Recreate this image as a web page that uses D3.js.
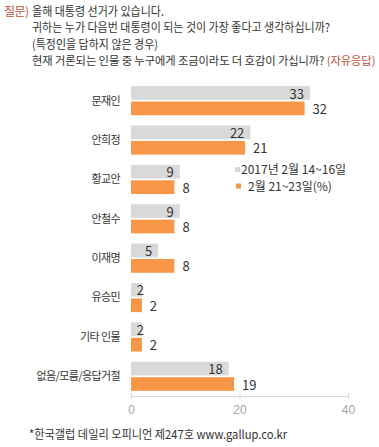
<!DOCTYPE html>
<html>
<head>
  <meta charset="utf-8">
  <script src="https://d3js.org/d3.v7.min.js"></script>
  <style>
    body { margin: 0; background: #fff; }
    svg { font-family: "Noto Sans CJK KR", "Noto Sans", sans-serif; }
    .cat text { fill: #333; font-size: 11px; letter-spacing: -0.6px; }
    .val { font-size: 13px; fill: #333; }
    .xaxis text { fill: #a6a6a6; font-size: 12px; }
    .xaxis line, .xaxis path { stroke: #d9d9d9; }
  </style>
</head>
<body>
<svg id="chart" width="379" height="447"></svg>
<script>
// 후보 및 응답 (%)
var candidates = ["문재인", "안희정", "황교안", "안철수", "이재명", "유승민", "기타 인물", "없음/모름/응답거절"];
var week1 = [33, 22, 9, 9, 5, 2, 2, 18];   // 2017년 2월 14~16일
var week2 = [32, 21, 8, 8, 8, 2, 2, 19];   // 2월 21~23일
var seriesNames = ["2017년 2월 14~16일", "2월 21~23일(%)"];
var xTicks = [0, 20, 40];

var colors = ["#d9d9d9", "#f79646"];
var svg = d3.select("#chart");

// 질문 문구
var q = svg.append("g").attr("font-size", 12).attr("fill", "#333");
q.append("text").attr("x", 4).attr("y", 16).attr("fill", "#b5543a")
  .attr("textLength", 25).text("질문)");
var lines = [
  "올해 대통령 선거가 있습니다.",
  "귀하는 누가 다음번 대통령이 되는 것이 가장 좋다고 생각하십니까?",
  "(특정인을 답하지 않은 경우)",
  "현재 거론되는 인물 중 누구에게 조금이라도 더 호감이 가십니까? "
];
var widths = [132, 298, 126, null];
lines.forEach(function (t, i) {
  var tx = q.append("text").attr("x", 32).attr("y", 16 + i * 16.3).text(t);
  if (widths[i]) {
    tx.attr("textLength", widths[i]).attr("lengthAdjust", "spacingAndGlyphs");
  } else {
    tx.attr("font-size", 11.3).attr("letter-spacing", -0.1);
    tx.append("tspan").attr("fill", "#b5543a").text("(자유응답)");
  }
});

var data = candidates.map(function (c, i) {
  return { name: c, values: [week1[i], week2[i]] };
});

var x = d3.scaleLinear().domain([0, 40]).range([131, 348]);
var y = d3.scaleBand().domain(candidates).range([81, 396]).paddingInner(0.26).paddingOuter(0.13);
var y1 = d3.scaleBand().domain([0, 1]).range([0, y.bandwidth()]).paddingInner(0.11);

// 카테고리 라벨
var cat = svg.append("g").attr("class", "cat");
cat.selectAll("text").data(data).enter().append("text")
  .attr("x", 120)
  .attr("y", function (d) { return y(d.name) + y.bandwidth() / 2; })
  .attr("dy", "0.35em")
  .attr("text-anchor", "end")
  .text(function (d) { return d.name; });

// 막대
var groups = svg.selectAll(".grp").data(data).enter().append("g")
  .attr("class", "grp")
  .attr("transform", function (d) { return "translate(0," + y(d.name) + ")"; });

groups.selectAll("rect").data(function (d) { return d.values; }).enter().append("rect")
  .attr("x", x(0))
  .attr("y", function (v, i) { return y1(i); })
  .attr("width", function (v) { return x(v) - x(0); })
  .attr("height", y1.bandwidth())
  .attr("fill", function (v, i) { return colors[i]; });

groups.selectAll(".val").data(function (d) { return d.values; }).enter().append("text")
  .attr("class", "val")
  .attr("x", function (v, i) {
    if (i == 0) return Math.max(x(v) - 6, x(0) + 13);
    return x(v) + 8;
  })
  .attr("text-anchor", function (v, i) { return i == 0 ? "end" : "start"; })
  .attr("y", function (v, i) { return y1(i) + y1.bandwidth() / 2 + 1; })
  .attr("dy", "0.35em")
  .text(function (v) { return v; });

// x축
var xAxis = svg.append("g").attr("class", "xaxis")
  .attr("transform", "translate(0,396)")
  .call(d3.axisBottom(x).tickValues(xTicks).tickSize(3).tickPadding(6));
xAxis.selectAll(".tick line").attr("y1", -3);

// 범례
var legend = svg.append("g").attr("font-size", 12).attr("fill", "#333");
seriesNames.forEach(function (s, i) {
  var ly = 170 + i * 16.5;
  legend.append("rect").attr("x", 235 + i).attr("y", ly - 3).attr("width", 5).attr("height", 5)
    .attr("fill", colors[i]);
  legend.append("text").attr("x", 241 + i * 7).attr("y", ly).attr("dy", "0.35em").text(s);
});

// 출처
svg.append("text").attr("x", 29).attr("y", 439).attr("font-size", 12).attr("fill", "#333")
  .attr("textLength", 258).attr("lengthAdjust", "spacingAndGlyphs")
  .text("*한국갤럽 데일리 오피니언 제247호 www.gallup.co.kr");
</script>
</body>
</html>
